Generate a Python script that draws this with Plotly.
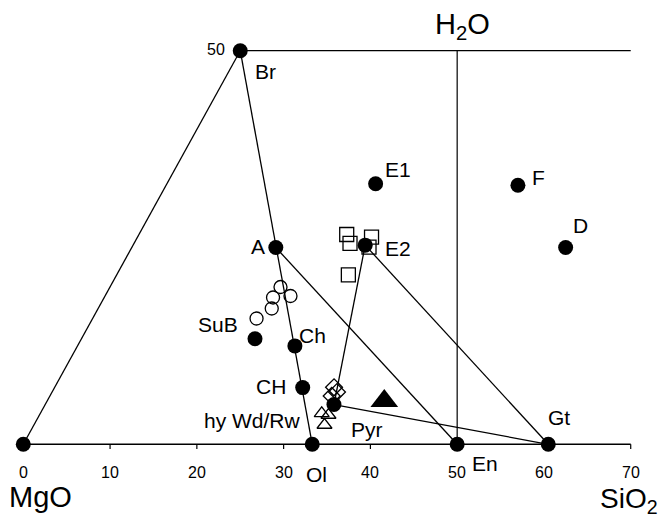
import plotly.graph_objects as go

# Phase points: x = SiO2 + H2O/2 (mol%), y = H2O (mol%)
phase_names = ["MgO", "Ol", "En", "Gt", "Br", "A", "Ch", "CH", "SuB", "E1", "E2", "F", "D", "Pyr"]
phase_x = [0, 33.3, 50, 60.5, 25, 29.1, 31.3, 32.2, 26.7, 40.6, 39.4, 57.0, 62.5, 35.8]
phase_y = [0, 0, 0, 0, 50, 25.0, 12.5, 7.2, 13.4, 33.1, 25.3, 32.9, 25.0, 5.05]

# Tie lines between phases
tie_lines = [("MgO", "Br"), ("Br", "Ol"), ("A", "En"), ("E2", "Pyr"), ("E2", "Gt"), ("Pyr", "Gt")]

# Experimental compositions
supb_x = [29.64, 28.78, 30.79, 28.63, 26.88]
supb_y = [19.98, 18.65, 18.84, 17.25, 15.98]
phe_x = [37.27, 37.65, 40.13, 39.84, 37.46]
phe_y = [26.65, 25.53, 26.33, 25.06, 21.51]
wd_x = [35.81, 36.15, 35.54]
wd_y = [7.24, 6.64, 6.14]
rw_x = [34.39, 34.71, 35.17]
rw_y = [3.94, 2.45, 3.72]
bulk_x = [41.6]
bulk_y = [5.5]

# Axis ticks
x_ticks = [0, 10, 20, 30, 40, 50, 60, 70]
x_tick_labels = ["0", "10", "20", "30", "40", "50", "60", "70"]
y_top = 50
y_top_label = "50"

# Label offsets in pixels (dx right, dy up) for phase labels
label_text = {"Br": "Br", "A": "A", "Ch": "Ch", "CH": "CH", "SuB": "SuB", "E1": "E1",
              "E2": "E2", "F": "F", "D": "D", "Gt": "Gt", "Ol": "Ol", "En": "En"}
label_offset = {"Br": (25, -21), "A": (-18, 1), "Ch": (18, 10), "CH": (-32, 1), "SuB": (-37, 14),
                "E1": (22, 14), "E2": (33, -3), "F": (21, 8), "D": (15, 22), "Gt": (11, 27),
                "Ol": (4, -30), "En": (28, -19)}

pos = {n: (x, y) for n, x, y in zip(phase_names, phase_x, phase_y)}

FONT = "Liberation Sans, Arial, Helvetica, sans-serif"
LW = 1.3
LABEL_SIZE = 21

fig = go.Figure()

# x axis line and ticks
fig.add_trace(go.Scatter(x=[x_ticks[0], x_ticks[-1]], y=[0, 0], mode="lines",
                         line=dict(color="black", width=1.5), hoverinfo="skip"))
tx, ty = [], []
for t in x_ticks:
    tx += [t, t, None]
    ty += [0, -0.6, None]
fig.add_trace(go.Scatter(x=tx, y=ty, mode="lines", line=dict(color="black", width=1.2), hoverinfo="skip"))

# H2O reference lines: top line at y=50 from Br, vertical at En
fig.add_trace(go.Scatter(x=[pos["Br"][0], x_ticks[-1]], y=[y_top, y_top], mode="lines",
                         line=dict(color="black", width=1.2), hoverinfo="skip"))
fig.add_trace(go.Scatter(x=[pos["En"][0], pos["En"][0]], y=[0, y_top], mode="lines",
                         line=dict(color="black", width=1.2), hoverinfo="skip"))

# tie lines
lx, ly = [], []
for a, b in tie_lines:
    lx += [pos[a][0], pos[b][0], None]
    ly += [pos[a][1], pos[b][1], None]
fig.add_trace(go.Scatter(x=lx, y=ly, mode="lines", line=dict(color="black", width=LW), hoverinfo="skip"))

# open symbols
fig.add_trace(go.Scatter(x=supb_x, y=supb_y, mode="markers",
                         marker=dict(symbol="circle-open", size=13, color="black", line=dict(width=LW))))
fig.add_trace(go.Scatter(x=phe_x, y=phe_y, mode="markers",
                         marker=dict(symbol="square-open", size=14, color="black", line=dict(width=LW))))
fig.add_trace(go.Scatter(x=wd_x, y=wd_y, mode="markers",
                         marker=dict(symbol="diamond-open", size=13, color="black", line=dict(width=LW))))
fig.add_trace(go.Scatter(x=rw_x, y=rw_y, mode="markers",
                         marker=dict(symbol="triangle-up-open", size=13, color="black", line=dict(width=LW))))

# phase points
fig.add_trace(go.Scatter(x=phase_x, y=phase_y, mode="markers",
                         marker=dict(symbol="circle", size=15, color="black")))
fig.add_trace(go.Scatter(x=bulk_x, y=bulk_y, mode="markers",
                         marker=dict(symbol="triangle-up", size=24, color="black")))

ann = []
for n, t in label_text.items():
    dx, dy = label_offset[n]
    ann.append(dict(x=pos[n][0], y=pos[n][1], xref="x", yref="y", text=t, showarrow=False,
                    xshift=dx, yshift=dy, font=dict(family=FONT, size=LABEL_SIZE, color="black")))
# labels for hydrous Wd/Rw and pyrolite
ann.append(dict(x=pos["Pyr"][0], y=pos["Pyr"][1], xref="x", yref="y", text="hy Wd/Rw", showarrow=False,
                xshift=-81, yshift=-16, font=dict(family=FONT, size=LABEL_SIZE, color="black")))
ann.append(dict(x=pos["Pyr"][0], y=pos["Pyr"][1], xref="x", yref="y", text="Pyr", showarrow=False,
                xshift=33, yshift=-25, font=dict(family=FONT, size=LABEL_SIZE, color="black")))
# tick labels
for t, s in zip(x_ticks, x_tick_labels):
    ann.append(dict(x=t, y=0, xref="x", yref="y", text=s, showarrow=False, yshift=-28,
                    font=dict(family=FONT, size=16, color="black")))
ann.append(dict(x=pos["Br"][0], y=y_top, xref="x", yref="y", text=y_top_label, showarrow=False,
                xshift=-24, yshift=1, font=dict(family=FONT, size=16, color="black")))
# component labels
ann.append(dict(x=0, y=0, xref="x", yref="y", text="MgO", showarrow=False, xshift=17, yshift=-53,
                font=dict(family=FONT, size=29, color="black")))
ann.append(dict(x=x_ticks[-1], y=0, xref="x", yref="y", text="SiO<sub>2</sub>", showarrow=False,
                xshift=-2, yshift=-56, font=dict(family=FONT, size=28, color="black")))
ann.append(dict(x=pos["En"][0], y=y_top, xref="x", yref="y", text="H<sub>2</sub>O", showarrow=False,
                xshift=5, yshift=25, font=dict(family=FONT, size=29, color="black")))

fig.update_layout(
    width=665, height=517, margin=dict(l=0, r=0, t=0, b=0),
    paper_bgcolor="white", plot_bgcolor="white", showlegend=False,
    xaxis=dict(visible=False, range=[-2.685, 73.95], fixedrange=True),
    yaxis=dict(visible=False, range=[-9.235, 56.44], fixedrange=True),
    annotations=ann,
)

fig.write_html("out.html")
